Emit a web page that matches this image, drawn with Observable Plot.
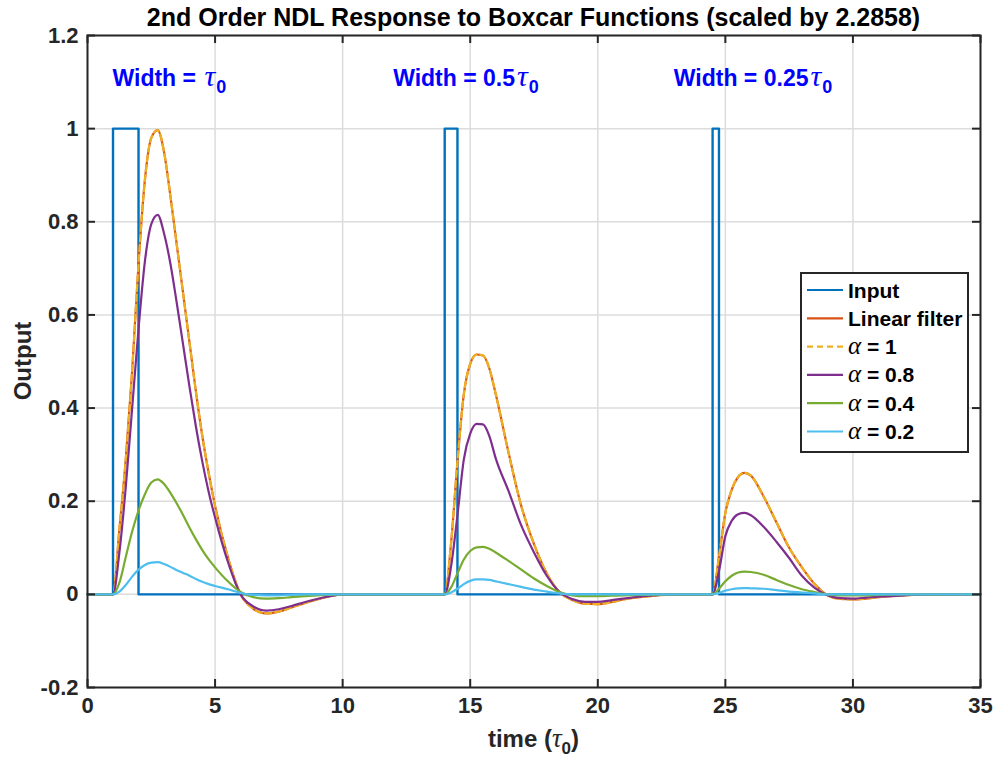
<!DOCTYPE html>
<html><head><meta charset="utf-8">
<script src="https://cdn.jsdelivr.net/npm/d3@7"></script>
<script src="https://cdn.jsdelivr.net/npm/@observablehq/plot@0.6"></script>
<style>body{margin:0;background:#fff;} svg{display:block;}</style>
</head><body><div id="chart"></div>
<script>
// ---------- data ----------
const time = [0, 1, 1.25, 1.5, 1.75, 2, 2.25, 2.5, 2.75, 3, 3.25, 3.5, 3.75, 4, 4.25, 4.5, 4.75, 5,
  5.5, 6, 6.5, 7, 7.5, 8, 8.5, 9, 9.5, 10,
  12,
  14, 14.25, 14.5, 14.75, 15, 15.25, 15.5, 15.75, 16,
  16.5, 17, 17.5, 18, 18.5, 19, 19.5, 20, 20.5, 21, 22, 23,
  24.5, 24.75, 25, 25.25, 25.5, 25.75, 26,
  26.5, 27, 27.5, 28, 28.5, 29, 29.5, 30, 30.5, 31, 32, 33, 35];

const linear = [0, 0, 0.14, 0.29, 0.48, 0.71, 0.89, 0.98, 0.997, 0.95, 0.855, 0.75, 0.645, 0.54, 0.435, 0.34, 0.26, 0.19,
  0.08, 0.0, -0.031, -0.041, -0.037, -0.028, -0.019, -0.011, -0.004, 0,
  0,
  0, 0.11, 0.285, 0.43, 0.495, 0.515, 0.513, 0.485, 0.43,
  0.305, 0.19, 0.108, 0.045, 0.005, -0.012, -0.02, -0.021, -0.017, -0.011, -0.004, 0,
  0, 0.08, 0.175, 0.225, 0.252, 0.261, 0.255,
  0.21, 0.155, 0.1, 0.058, 0.022, -0.002, -0.01, -0.011, -0.009, -0.006, -0.002, 0, 0];

const alpha1 = [0, 0, 0.14, 0.29, 0.48, 0.71, 0.89, 0.98, 0.997, 0.95, 0.855, 0.75, 0.645, 0.54, 0.435, 0.34, 0.26, 0.19,
  0.08, 0.0, -0.031, -0.041, -0.037, -0.028, -0.019, -0.011, -0.004, 0,
  0,
  0, 0.11, 0.285, 0.43, 0.495, 0.515, 0.513, 0.485, 0.43,
  0.305, 0.19, 0.108, 0.045, 0.005, -0.012, -0.02, -0.021, -0.017, -0.011, -0.004, 0,
  0, 0.08, 0.175, 0.225, 0.252, 0.261, 0.255,
  0.21, 0.155, 0.1, 0.058, 0.022, -0.002, -0.01, -0.011, -0.009, -0.006, -0.002, 0, 0];

const alpha08 = [0, 0, 0.09, 0.23, 0.40, 0.57, 0.715, 0.795, 0.815, 0.775, 0.71, 0.625, 0.535, 0.445, 0.36, 0.285, 0.22, 0.165,
  0.07, 0.0, -0.026, -0.035, -0.032, -0.025, -0.017, -0.010, -0.004, 0,
  0,
  0, 0.06, 0.17, 0.29, 0.345, 0.366, 0.365, 0.34, 0.292,
  0.222, 0.148, 0.09, 0.04, 0.005, -0.01, -0.016, -0.016, -0.013, -0.009, -0.003, 0,
  0, 0.05, 0.125, 0.158, 0.172, 0.175, 0.17,
  0.145, 0.113, 0.078, 0.04, 0.014, -0.002, -0.008, -0.009, -0.007, -0.005, -0.002, 0, 0];

const alpha04 = [0, 0, 0.025, 0.08, 0.135, 0.18, 0.215, 0.24, 0.247, 0.237, 0.218, 0.195, 0.17, 0.143, 0.118, 0.095, 0.075, 0.058,
  0.028, 0.005, -0.006, -0.009, -0.008, -0.006, -0.004, -0.002, -0.001, 0,
  0,
  0, 0.015, 0.045, 0.075, 0.093, 0.101, 0.102, 0.098, 0.09,
  0.072, 0.053, 0.034, 0.018, 0.005, -0.002, -0.004, -0.004, -0.003, -0.002, -0.001, 0,
  0, 0.012, 0.028, 0.04, 0.047, 0.049, 0.048,
  0.042, 0.031, 0.02, 0.011, 0.005, 0, -0.002, -0.002, -0.002, -0.001, 0, 0, 0];

const alpha02 = [0, 0, 0.006, 0.02, 0.038, 0.053, 0.063, 0.068, 0.069, 0.065, 0.059, 0.052, 0.046, 0.04, 0.033, 0.027, 0.022, 0.018,
  0.011, 0.003, -0.001, -0.002, -0.002, -0.001, 0, 0, 0, 0,
  0,
  0, 0.004, 0.012, 0.022, 0.029, 0.032, 0.032, 0.031, 0.028,
  0.022, 0.016, 0.01, 0.006, 0.002, 0, 0, 0, 0, 0, 0, 0,
  0, 0.003, 0.008, 0.011, 0.013, 0.0135, 0.013,
  0.012, 0.009, 0.006, 0.004, 0.002, 0, 0, 0, 0, 0, 0, 0, 0];

const inputT = [0, 1, 1, 2, 2, 14, 14, 14.5, 14.5, 24.5, 24.5, 24.75, 24.75, 35];
const inputV = [0, 0, 1, 1, 0, 0, 1, 1, 0, 0, 1, 1, 0, 0];

const xTicks = [0, 5, 10, 15, 20, 25, 30, 35];
const yTicks = [-0.2, 0, 0.2, 0.4, 0.6, 0.8, 1, 1.2];

const seriesNames = ["Input", "Linear filter", "α = 1", "α = 0.8", "α = 0.4", "α = 0.2"];
const seriesColors = ["#0072BD", "#D95319", "#EDB120", "#7E2F8E", "#77AC30", "#4DBEEE"];

const annoLabels = [{t: 1, v: 1.09, pre: ""}, {t: 12, v: 1.09, pre: "0.5"}, {t: 23, v: 1.09, pre: "0.25"}];

const titleText = "2nd Order NDL Response to Boxcar Functions (scaled by 2.2858)";

// ---------- layout ----------
const W = 998, H = 761, mL = 87, mR = 18, mT = 35, mB = 74;
const iw = W - mL - mR, ih = H - mT - mB;
const FONT = "'Liberation Sans', Arial, Helvetica, sans-serif";
const SERIF = "'Liberation Serif', 'Times New Roman', serif";
const INK = "#262626";

const mk = vals => time.map((t, i) => ({t, v: vals[i]}));
const inputData = inputT.map((t, i) => ({t, v: inputV[i]}));
const series = [linear, alpha1, alpha08, alpha04, alpha02].map(mk);

const lineOpts = (i, extra = {}) => ({x: "t", y: "v", stroke: seriesColors[i], strokeWidth: 2.2, curve: "monotone-x", ...extra});

const chart = Plot.plot({
  width: W, height: H,
  marginLeft: mL, marginRight: mR, marginTop: mT, marginBottom: mB,
  style: {fontFamily: FONT, fontWeight: "bold", fontSize: "22px", color: INK, background: "#fff"},
  x: {domain: [0, 35]},
  y: {domain: [-0.2, 1.2]},
  marks: [
    Plot.gridX(xTicks, {stroke: "#dcdcdc", strokeOpacity: 1, strokeWidth: 1.5}),
    Plot.gridY(yTicks, {stroke: "#dcdcdc", strokeOpacity: 1, strokeWidth: 1.5}),
    Plot.axisX(xTicks, {tickSize: 0, tickPadding: 10, tickFormat: d => String(d), label: null, fontSize: 22}),
    Plot.axisY(yTicks, {tickSize: 0, tickPadding: 9, tickFormat: d => String(+d.toFixed(1)), label: null, fontSize: 22}),
    Plot.line(inputData, {x: "t", y: "v", stroke: seriesColors[0], strokeWidth: 2.4}),
    Plot.line(series[0], lineOpts(1)),
    Plot.line(series[1], lineOpts(2, {strokeDasharray: "6,4"})),
    Plot.line(series[2], lineOpts(3)),
    Plot.line(series[3], lineOpts(4)),
    Plot.line(series[4], lineOpts(5)),
    Plot.tickX(xTicks, {x: d => d, insetTop: ih - 8, stroke: INK, strokeWidth: 2}),
    Plot.tickX(xTicks, {x: d => d, insetBottom: ih - 8, stroke: INK, strokeWidth: 2}),
    Plot.tickY(yTicks, {y: d => d, insetRight: iw - 8, stroke: INK, strokeWidth: 2}),
    Plot.tickY(yTicks, {y: d => d, insetLeft: iw - 8, stroke: INK, strokeWidth: 2}),
    Plot.frame({stroke: INK, strokeWidth: 2})
  ]
});

const svg = d3.select(chart);
const xs = chart.scale("x"), ys = chart.scale("y");

// title
svg.append("text").attr("x", mL + iw / 2).attr("y", 26).attr("text-anchor", "middle")
  .attr("font-size", 25).attr("font-weight", "bold").attr("fill", "#000").text(titleText);

// axis labels
svg.append("text").attr("transform", `translate(31,${mT + ih / 2}) rotate(-90)`).attr("text-anchor", "middle")
  .attr("font-size", 24).attr("font-weight", "bold").attr("fill", INK).text("Output");
const xl = svg.append("text").attr("x", mL + iw / 2).attr("y", 747).attr("text-anchor", "middle")
  .attr("font-size", 24).attr("font-weight", "bold").attr("fill", INK);
xl.append("tspan").text("time (");
xl.append("tspan").attr("font-family", SERIF).attr("font-style", "italic").attr("font-weight", "normal").attr("font-size", 27).text("τ");
xl.append("tspan").attr("font-size", 17).attr("dy", 7).text("0");
xl.append("tspan").attr("dy", -7).text(")");

// annotations
annoLabels.forEach(a => {
  const t = svg.append("text").attr("x", xs.apply(a.t)).attr("y", ys.apply(a.v)).attr("text-anchor", "start")
    .attr("font-size", 23).attr("font-weight", "bold").attr("fill", "#0000FF");
  t.append("tspan").text("Width = " + a.pre);
  t.append("tspan").attr("font-family", SERIF).attr("font-style", "italic").attr("font-weight", "normal").attr("font-size", 30).attr("dx", 2).text("τ");
  t.append("tspan").attr("font-size", 18).attr("dy", 7).attr("dx", 1).text("0");
});

// legend
const lg = svg.append("g");
const lx = 801, ly = 273, lw = 167, lh = 179;
lg.append("rect").attr("x", lx).attr("y", ly).attr("width", lw).attr("height", lh)
  .attr("fill", "#fff").attr("stroke", INK).attr("stroke-width", 2);
seriesNames.forEach((name, i) => {
  const yy = 290 + i * 28.3;
  lg.append("line").attr("x1", 807).attr("x2", 843).attr("y1", yy).attr("y2", yy)
    .attr("stroke", seriesColors[i]).attr("stroke-width", 2.2)
    .attr("stroke-dasharray", i === 2 ? "6,4" : null);
  const tx = lg.append("text").attr("x", 848).attr("y", yy).attr("dy", "0.36em").attr("text-anchor", "start")
    .attr("font-size", 21).attr("font-weight", "bold").attr("fill", "#000");
  if (name.startsWith("α")) {
    tx.append("tspan").attr("font-family", SERIF).attr("font-style", "italic").attr("font-weight", "normal").attr("font-size", 25).text("α");
    tx.append("tspan").text(name.slice(1));
  } else {
    tx.text(name);
  }
});

document.getElementById("chart").appendChild(chart);
</script>
</body></html>
